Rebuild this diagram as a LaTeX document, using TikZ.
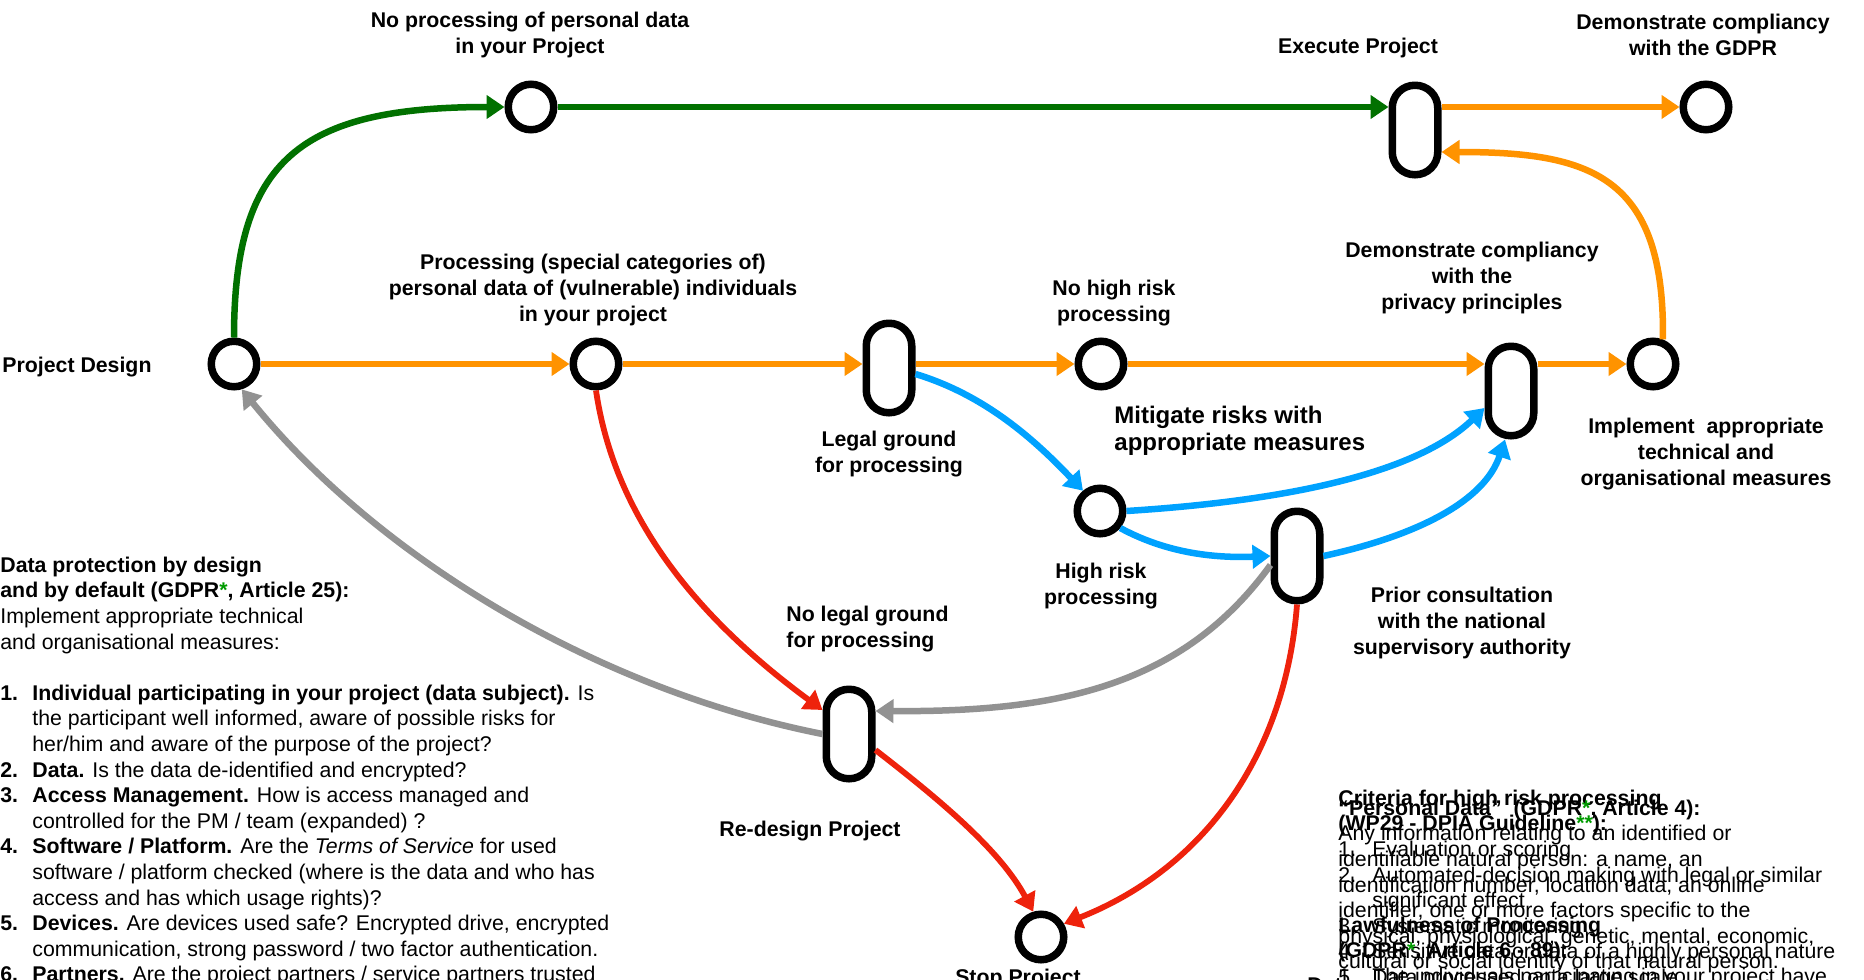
\documentclass[tikz,border=0pt]{standalone}
\usepackage{fontspec}
\setmainfont{Liberation Sans}
\usetikzlibrary{arrows.meta}
\definecolor{kgreen}{HTML}{017100}
\definecolor{korange}{HTML}{FF9300}
\definecolor{kblue}{HTML}{00A2FF}
\definecolor{kred}{HTML}{EE220C}
\definecolor{kgray}{HTML}{929292}
\definecolor{stargreen}{HTML}{009A00}
\newcommand{\gstar}{\textcolor{stargreen}{*}}
\newcommand{\bnum}[1]{\makebox[16pt][l]{\textbf{#1}}}
\newcommand{\bcont}{\hspace*{16pt}}
\newcommand{\rnum}[1]{\makebox[17pt][l]{#1}}
\newcommand{\rcont}{\hspace*{17pt}}
\begin{document}
\begin{tikzpicture}[x=0.5pt,y=-0.5pt,
  ring/.style={circle,draw=black,line width=3.75pt,fill=white,inner sep=0pt,minimum size=22.75pt},
  pill/.style={rectangle,rounded corners=11.3pt,draw=black,line width=3.75pt,fill=white,inner sep=0pt,minimum width=22.75pt,minimum height=44.75pt},
  lbl/.style={font=\fontsize{10.65pt}{12.8pt}\selectfont\bfseries,align=center,inner sep=0pt},
  body/.style={font=\fontsize{10.65pt}{12.8pt}\selectfont,align=left,inner sep=0pt,anchor=north west},
  flow/.style={line width=3.25pt,-{Triangle[length=9pt,width=11.5pt]}},
  thin flow/.style={line width=2.9pt,-{Triangle[length=9pt,width=11.5pt]}},
]
\useasboundingbox (0,0) rectangle (1864,980);

% stations
\node[ring] (pd) at (234,364) {};
\node[ring] (nop) at (531,107) {};
\node[ring] (proc) at (596,364) {};
\node[pill] (legal) at (889,368) {};
\node[ring] (nohigh) at (1101,364) {};
\node[pill] (priv) at (1511,391) {};
\node[ring] (impl) at (1653,364) {};
\node[pill] (exec) at (1415,130) {};
\node[ring] (gdpr) at (1706,107) {};
\node[ring] (high) at (1100,511) {};
\node[pill] (prior) at (1297,556) {};
\node[pill] (redesign) at (849,734) {};
\node[ring] (stop) at (1041,937) {};

% green route: no personal data
\draw[flow,kgreen] (pd.north) .. controls (234,160) and (300,107) .. (nop.west);
\draw[flow,kgreen] (nop.east) -- (nop.east -| exec.west);

% orange route: main line
\draw[flow,korange] (pd.east) -- (proc.west);
\draw[flow,korange] (proc.east) -- (proc.east -| legal.west);
\draw[flow,korange] (legal.east |- nohigh.west) -- (nohigh.west);
\draw[flow,korange] (nohigh.east) -- (nohigh.east -| priv.west);
\draw[flow,korange] (priv.east |- impl.west) -- (impl.west);
\draw[flow,korange] (impl.68) .. controls (1665,175) and (1590,152) .. ([yshift=-11pt]exec.east);
\draw[flow,korange] (exec.east |- gdpr.west) -- (gdpr.west);

% blue route: high risk
\draw[flow,kblue] ([yshift=-3pt]legal.east) .. controls (985,395) and (1035,440) .. (high.130);
\draw[flow,kblue] (high.east) .. controls (1300,500) and (1420,470) .. ([yshift=-8.5pt]priv.west);
\draw[flow,kblue] (high.-40) .. controls (1170,555) and (1220,558) .. (prior.west);
\draw[flow,kblue] (prior.east) .. controls (1420,535) and (1485,500) .. ([xshift=-3pt]priv.south);

% red route: stop
\draw[thin flow,kred] (proc.south) .. controls (615,520) and (700,620) .. ([yshift=12pt]redesign.west);
\draw[thin flow,kred] ([yshift=-8pt]redesign.east) .. controls (940,800) and (1000,850) .. (stop.107);
\draw[thin flow,kred] (prior.south) .. controls (1285,760) and (1200,870) .. (stop.30);

% grey route: back to design
\draw[flow,kgray] ([yshift=-4.5pt]prior.west) .. controls (1180,690) and (1050,712) .. ([yshift=11.5pt]redesign.east);
\draw[flow,kgray] (redesign.west) .. controls (600,690) and (380,560) .. (pd.-73);

% station labels
\node[lbl,anchor=west] (tpd) at (2,367) {Project Design};
\node[lbl] (tnop) at (530,35) {No processing of personal data\\in your Project};
\node[lbl] (tproc) at (593,290) {Processing (special categories of)\\personal data of (vulnerable) individuals\\in your project};
\node[lbl] (tlegal) at (889,454) {Legal ground\\for processing};
\node[lbl] (tnohigh) at (1114,303) {No high risk\\processing};
\node[lbl] (tpriv) at (1472,278) {Demonstrate compliancy\\with the\\privacy principles};
\node[lbl,align=left,anchor=west,font=\fontsize{12pt}{13.5pt}\selectfont\bfseries] (tmit) at (1114,431) {Mitigate risks with\\appropriate measures};
\node[lbl] (timpl) at (1706,454) {Implement\ \ appropriate\\technical and\\organisational measures};
\node[lbl] (texec) at (1358,48) {Execute Project};
\node[lbl] (tgdpr) at (1703,35) {Demonstrate compliancy\\with the GDPR};
\node[lbl] (thigh) at (1101,586) {High risk\\processing};
\node[lbl] (tprior) at (1462,623) {Prior consultation\\with the national\\supervisory authority};
\node[lbl,align=left,anchor=west] (tnolegal) at (786,629) {No legal ground\\for processing};
\node[lbl] (tredesign) at (810,831) {Re-design Project};
\node[lbl] (tstop) at (1018,979) {Stop Project};

% explanatory text
\node[body] (dpd) at (0,556.5) {\textbf{Data protection by design}\\
\textbf{and by default (GDPR\gstar, Article 25):}\\
Implement appropriate technical\\
and organisational measures:\\
\mbox{}\\
\bnum{1.}\textbf{Individual participating in your project (data subject).} Is\\
\bcont the participant well informed, aware of possible risks for\\
\bcont her/him and aware of the purpose of the project?\\
\bnum{2.}\textbf{Data.} Is the data de-identified and encrypted?\\
\bnum{3.}\textbf{Access Management.} How is access managed and\\
\bcont controlled for the PM / team (expanded) ?\\
\bnum{4.}\textbf{Software / Platform.} Are the \textit{Terms of Service} for used\\
\bcont software / platform checked (where is the data and who has\\
\bcont access and has which usage rights)?\\
\bnum{5.}\textbf{Devices.} Are devices used safe? Encrypted drive, encrypted\\
\bcont communication, strong password / two factor authentication.\\
\bnum{6.}\textbf{Partners.} Are the project partners / service partners trusted};

\node[body] (crit) at (1338,789.5) {\textbf{Criteria for high risk processing}\\
\textbf{(WP29 - DPIA Guideline\textcolor{stargreen}{**}):}\\
\rnum{1.}Evaluation or scoring\\
\rnum{2.}Automated-decision making with legal or similar\\
\rcont significant effect\\
\rnum{3.}Systematic monitoring\\
\rnum{4.}Sensitive data or data of a highly personal nature\\
\rnum{5.}Data processed on a large scale};

\node[body] (pdata) at (1338,799.4) {\textbf{“Personal Data”\ \ (GDPR\gstar, Article 4):}\\
Any information relating to an identified or\\
identifiable natural person: a name, an\\
identification number, location data, an online\\
identifier, one or more factors specific to the\\
physical, physiological, genetic, mental, economic,\\
cultural or social identity of that natural person.};

\node[body] (lawful) at (1338,916.5) {\textbf{Lawfulness of Processing}\\
\textbf{(GDPR\gstar, Article 6 - 89):}\\
\rnum{1.}The individuals participating in your project have};

\node[body,font=\fontsize{10.65pt}{12.8pt}\selectfont\bfseries] (datahead) at (1307,977) {Data};
\end{tikzpicture}
\end{document}
